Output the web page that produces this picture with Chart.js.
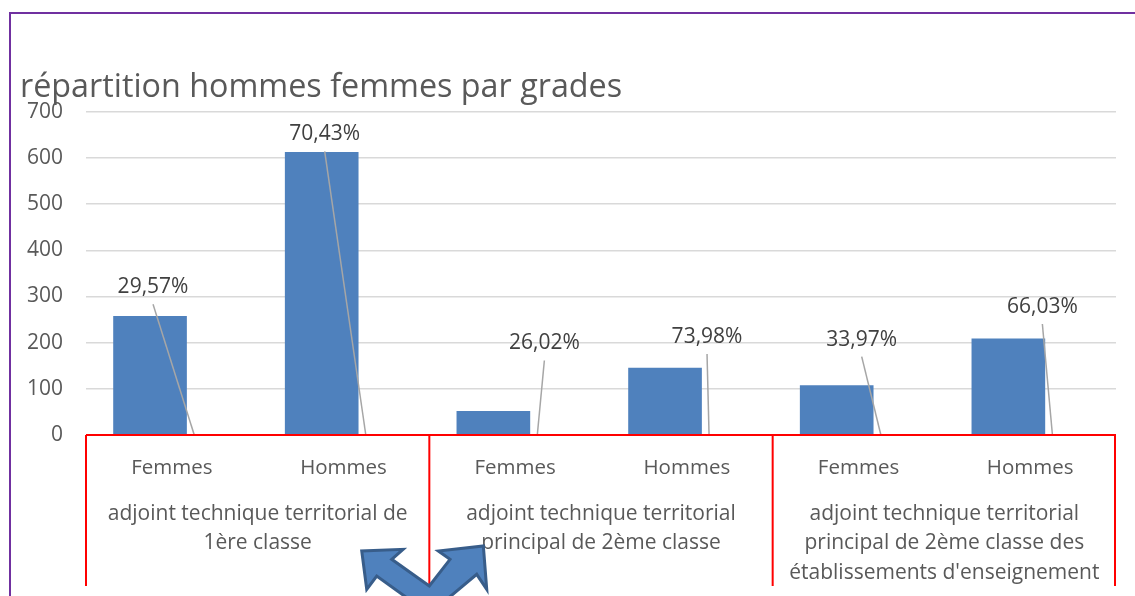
<!DOCTYPE html>
<html lang="fr">
<head>
<meta charset="utf-8">
<title>répartition hommes femmes par grades</title>
<script src="https://cdn.jsdelivr.net/npm/chart.js@4.4.1/dist/chart.umd.min.js"></script>
<style>
	html, body { margin: 0; padding: 0; background: #fff; }
	.chart-box { position: relative; width: 1135px; height: 596px; }
</style>
</head>
<body>
<div class="chart-box"><canvas id="myChart"></canvas></div>
<script>
const chartTitle = 'répartition hommes femmes par grades';
const sexes = ['Femmes', 'Hommes', 'Femmes', 'Hommes', 'Femmes', 'Hommes'];
const grades = [
	['adjoint technique territorial de', '1ère classe'],
	['adjoint technique territorial', 'principal de 2ème classe'],
	['adjoint technique territorial', 'principal de 2ème classe des', "établissements d'enseignement"]
];
const effectifs = [257, 612, 51, 145, 107, 208];
const parts = ['29,57%', '70,43%', '26,02%', '73,98%', '33,97%', '66,03%'];
const yTicks = [0, 100, 200, 300, 400, 500, 600, 700];

class GradesChart {
	constructor (){
		const _ = this;

		_.font = '"Open Sans", "Liberation Sans", sans-serif';
		_.gray = '#595959';
		_.blue = '#4F81BD';
		// where each % label sits, from the top of its bar (px)
		_.labelShift = [[3, -29], [3, -18], [51, -68], [42, -31], [25, -46], [34, -32]];
		_.leaderEnd = 44;

		_.init();
	}


	decor(){
		const _ = this;

		return {
			id: 'decor',
			beforeDraw(chart){
				const ctx = chart.ctx;
				ctx.save();
				ctx.fillStyle = '#fff';
				ctx.fillRect(0, 0, chart.width, chart.height);
				// purple frame of the slide
				ctx.strokeStyle = '#7030A0';
				ctx.lineWidth = 2;
				ctx.beginPath();
				ctx.moveTo(10, chart.height);
				ctx.lineTo(10, 13);
				ctx.lineTo(chart.width, 13);
				ctx.stroke();
				ctx.restore();
			},
			afterDatasetsDraw(chart){
				const ctx = chart.ctx;
				const bars = chart.getDatasetMeta(0).data;
				ctx.save();
				ctx.font = '21px ' + _.font;
				ctx.textAlign = 'center';
				ctx.textBaseline = 'middle';
				for (let i = 0; i < bars.length; i++) {
					let bar = bars[i];
					let cx = bar.x + _.labelShift[i][0];
					let cy = bar.y + _.labelShift[i][1];
					ctx.strokeStyle = '#A6A6A6';
					ctx.lineWidth = 1.5;
					ctx.beginPath();
					ctx.moveTo(cx, cy + 17);
					ctx.lineTo(bar.x + _.leaderEnd, bar.base);
					ctx.stroke();
					ctx.fillStyle = '#404040';
					ctx.fillText(parts[i], cx, cy);
				}
				ctx.restore();
			},
			afterDraw(chart){
				const ctx = chart.ctx;
				const xs = chart.scales.x;
				const area = chart.chartArea;
				const bottom = 586;
				ctx.save();

				// red boxes round the grade groups
				let edges = [area.left];
				for (let g = 0; g < grades.length; g++) {
					edges.push(g === grades.length - 1 ? area.right - 1 : (xs.getPixelForValue(2 * g + 1) + xs.getPixelForValue(2 * g + 2)) / 2);
				}
				ctx.strokeStyle = '#FF0000';
				ctx.lineWidth = 2;
				ctx.beginPath();
				ctx.moveTo(area.left, area.bottom);
				ctx.lineTo(area.right, area.bottom);
				edges.forEach(function (x){
					ctx.moveTo(x, area.bottom);
					ctx.lineTo(x, bottom);
				});
				ctx.stroke();

				// grade names under the sexes
				ctx.font = '21px ' + _.font;
				ctx.fillStyle = _.gray;
				ctx.textAlign = 'center';
				ctx.textBaseline = 'middle';
				grades.forEach(function (lines, g){
					let x = (xs.getPixelForValue(2 * g) + xs.getPixelForValue(2 * g + 1)) / 2;
					lines.forEach(function (line, k){
						ctx.fillText(line, x, 514 + k * 29.5);
					});
				});

				// blue double arrow
				let ax = edges[1];
				let pts = [
					[0, 586], [-37.6, 559.3], [-26.3, 549.3], [-67.6, 551], [-62.6, 589.3], [-52.6, 576],
					[0, 614], [47.4, 574.3], [57.4, 589.3], [54, 546], [9, 551], [20.7, 559.3]
				];
				ctx.beginPath();
				pts.forEach(function (p, k){
					if (k === 0) ctx.moveTo(ax + p[0], p[1]);
					else ctx.lineTo(ax + p[0], p[1]);
				});
				ctx.closePath();
				ctx.fillStyle = _.blue;
				ctx.fill();
				ctx.strokeStyle = '#385D8A';
				ctx.lineWidth = 3;
				ctx.lineJoin = 'miter';
				ctx.stroke();

				ctx.restore();
			}
		};
	}

	start(){
		const _ = this;
		const ctx = document.getElementById('myChart');
		let data = {
			labels: sexes,
			datasets: [{
				data: effectifs.map(function (v, i){ return {x: i, y: v}; }),
				xAxisID: 'xb',
				backgroundColor: _.blue,
				borderWidth: 0,
				barThickness: 73
			}]
		};
		const myChart = new Chart(ctx, {
			type: 'bar',
			data: data,
			plugins: [_.decor()],
			options: {
				responsive: true,
				maintainAspectRatio: false,
				animation: false,
				layout: { padding: { left: 20, right: 19, top: 0, bottom: 0 } },
				plugins: {
					legend: { display: false },
					tooltip: { enabled: false },
					title: {
						display: true,
						text: chartTitle,
						align: 'start',
						color: _.gray,
						font: { family: _.font, size: 32.3, weight: 'normal' },
						padding: { top: 68, bottom: 5 }
					}
				},
				scales: {
					x: {
						type: 'category',
						offset: true,
						grid: { display: false, drawTicks: false },
						border: { display: false },
						ticks: { color: _.gray, font: { family: _.font, size: 20.5 }, padding: 21, maxRotation: 0 },
						afterFit(scale){ scale.height = 161; }
					},
					xb: {
						type: 'linear',
						display: false,
						offset: false,
						grid: { offset: false },
						min: -0.373,
						max: 5.627
					},
					y: {
						min: yTicks[0],
						max: yTicks[yTicks.length - 1],
						ticks: { stepSize: yTicks[1] - yTicks[0], color: _.gray, font: { family: _.font, size: 21 }, padding: 23 },
						grid: { color: '#D9D9D9', lineWidth: 1.5, drawTicks: false },
						border: { display: false },
						afterFit(scale){ scale.width = 66; }
					}
				}
			}
		});
	}

	init(){
		const _ = this;
		_.start();
	}
}
new GradesChart();
</script>
</body>
</html>
